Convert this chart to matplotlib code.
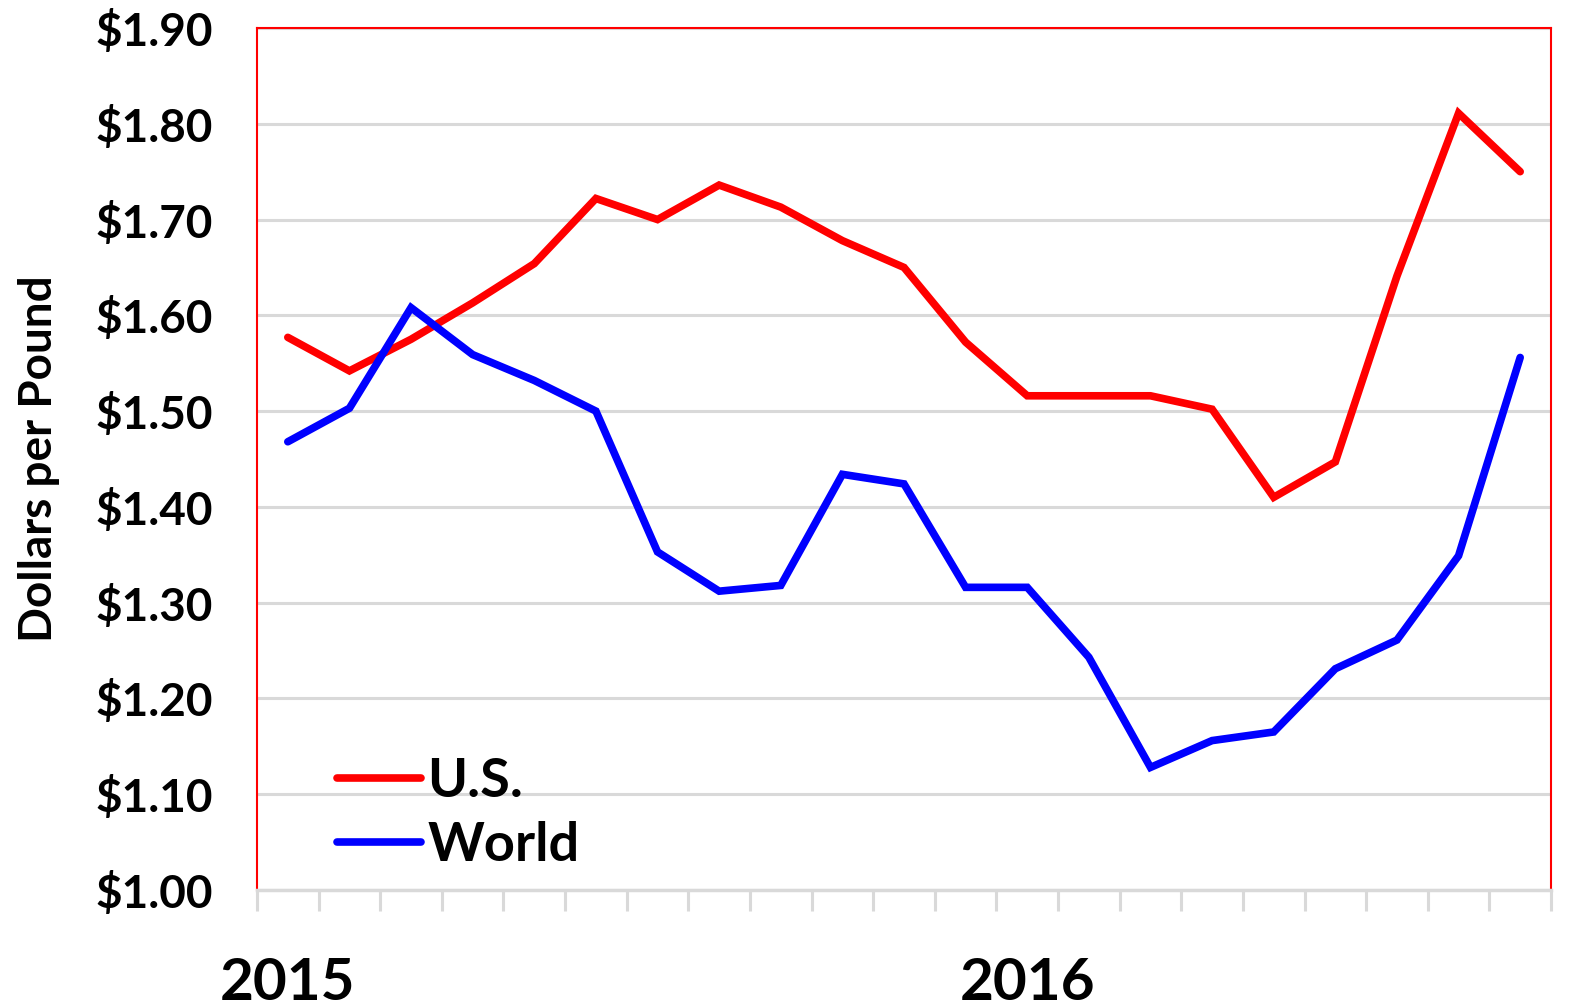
import numpy as np
import matplotlib.pyplot as plt

plt.rcParams['font.family'] = ['Lato', 'DejaVu Sans']

# monthly prices, Jan 2015 .. Sep 2016
months = np.arange(21)
us = [1.577, 1.542, 1.575, 1.613, 1.654, 1.722, 1.700, 1.736, 1.713, 1.678,
      1.650, 1.572, 1.516, 1.516, 1.516, 1.502, 1.410, 1.447, 1.641, 1.811, 1.750]
world = [1.468, 1.503, 1.608, 1.559, 1.532, 1.500, 1.353, 1.312, 1.318, 1.434,
         1.424, 1.316, 1.316, 1.243, 1.128, 1.156, 1.165, 1.231, 1.261, 1.349, 1.556]
year_pos = [0, 12]
year_labels = ['2015', '2016']
yticks = np.arange(1.0, 1.91, 0.1)

fig = plt.figure(figsize=(15.74, 10.07), dpi=100)
ax = fig.add_axes([257/1574, 1 - 890/1007, (1551-257)/1574, (890-28)/1007])

grid_c = '#d9d9d9'
ax.plot(months, us, color='red', lw=5.5, solid_capstyle='round', solid_joinstyle='miter', label='U.S.', zorder=3)
ax.plot(months, world, color='blue', lw=5.5, solid_capstyle='round', solid_joinstyle='miter', label='World', zorder=3)

ax.set_xlim(-0.5, 20.5)
ax.set_ylim(1.0, 1.9)
ax.set_yticks(yticks)
ax.set_yticklabels(['${:.2f}'.format(v) for v in yticks], fontsize=33, fontweight='bold')
ax.tick_params(axis='y', length=0, pad=32)
ax.yaxis.grid(True, color=grid_c, lw=2.2)
ax.set_axisbelow(True)

ax.set_xticks(year_pos)
ax.set_xticklabels(year_labels, fontsize=42, fontweight='bold')
ax.set_xticks(np.arange(-0.5, 21, 1), minor=True)
ax.tick_params(axis='x', which='major', length=0, pad=48)
ax.tick_params(axis='x', which='minor', length=15, width=2.2, color=grid_c)

for s in ['left', 'top', 'right']:
    ax.spines[s].set_color('red')
    ax.spines[s].set_linewidth(1.5)
ax.spines['bottom'].set_color(grid_c)
ax.spines['bottom'].set_linewidth(2.5)

ax.set_ylabel('Dollars per Pound', fontsize=33, fontweight='bold')
ax.yaxis.set_label_coords(-0.152, 0.5)

leg = ax.legend(loc='lower left', bbox_to_anchor=(0.045, -0.002), frameon=False,
                prop={'size': 39, 'weight': 'bold'}, handlelength=1.55,
                handletextpad=0.12, labelspacing=0.27, borderaxespad=0)

fig.savefig('out.png', dpi=100)
